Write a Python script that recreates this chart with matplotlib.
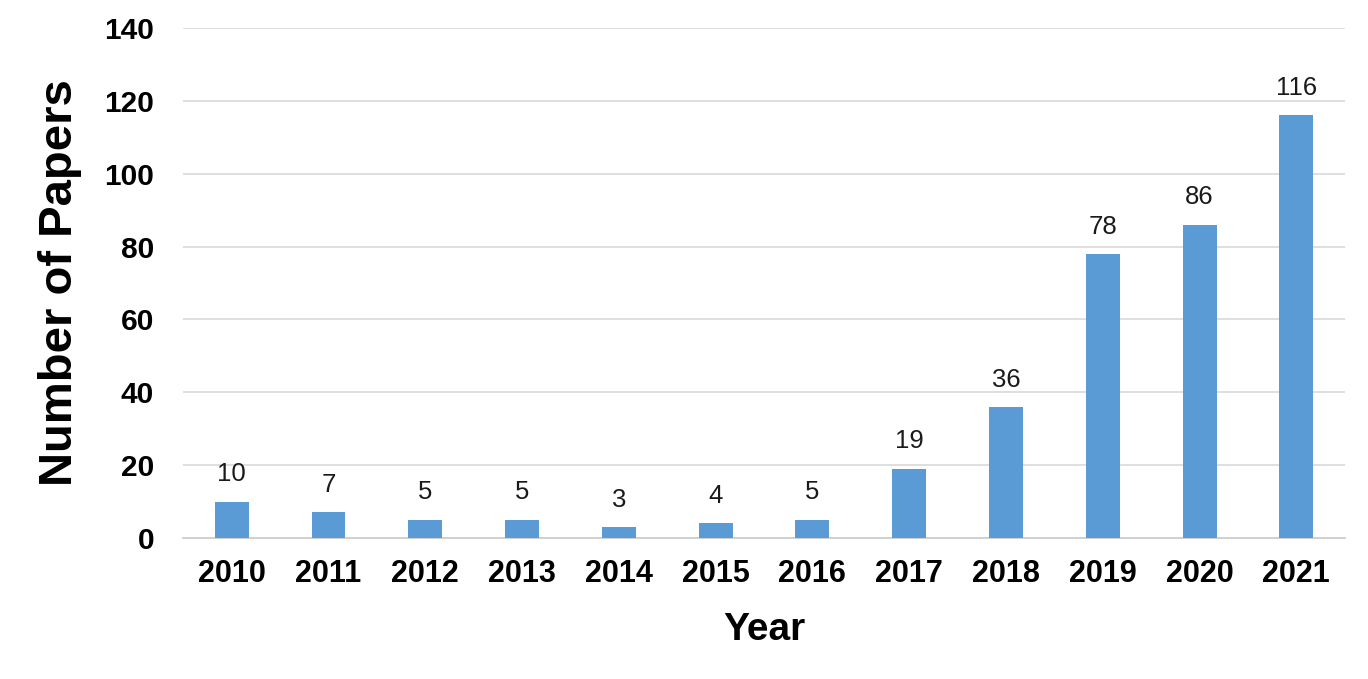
import numpy as np
import matplotlib.pyplot as plt

years = ['2010', '2011', '2012', '2013', '2014', '2015', '2016', '2017', '2018', '2019', '2020', '2021']
papers = [10, 7, 5, 5, 3, 4, 5, 19, 36, 78, 86, 116]

plt.rcParams['font.family'] = ['Liberation Sans', 'DejaVu Sans']

fig = plt.figure(figsize=(13.68, 6.79), dpi=100)
ax = fig.add_axes([0.134, 0.2077, 0.849, 0.7511])

x = np.arange(len(years))
ax.bar(x, papers, width=0.35, color='#5B9BD5', zorder=3)
for xi, v in zip(x, papers):
    ax.annotate(str(v), (xi, v), xytext=(0, 11), textcoords='offset points',
                ha='center', va='bottom', fontsize=18.5, color='#1a1a1a')

ax.set_xlim(-0.5, len(years) - 0.5)
ax.set_ylim(0, 140)
ax.set_yticks(np.arange(0, 141, 20))
ax.set_xticks(x)
ax.set_xticklabels(years, fontsize=22, fontweight='bold')
for lab in ax.get_yticklabels():
    lab.set_fontsize(21.5)
    lab.set_fontweight('bold')
ax.tick_params(axis='y', length=0, pad=21)
ax.tick_params(axis='x', length=0, pad=15)
ax.grid(axis='y', color='#d9d9d9', linewidth=1.2, zorder=0)
for s in ['top', 'right', 'left']:
    ax.spines[s].set_visible(False)
ax.spines['bottom'].set_color('#d0d0d0')
ax.spines['bottom'].set_linewidth(1.4)

ax.set_xlabel('Year', fontsize=28, fontweight='bold', labelpad=17)
ax.set_ylabel('Number of Papers', fontsize=34, fontweight='bold', labelpad=16)

fig.savefig('out.png', dpi=100)
